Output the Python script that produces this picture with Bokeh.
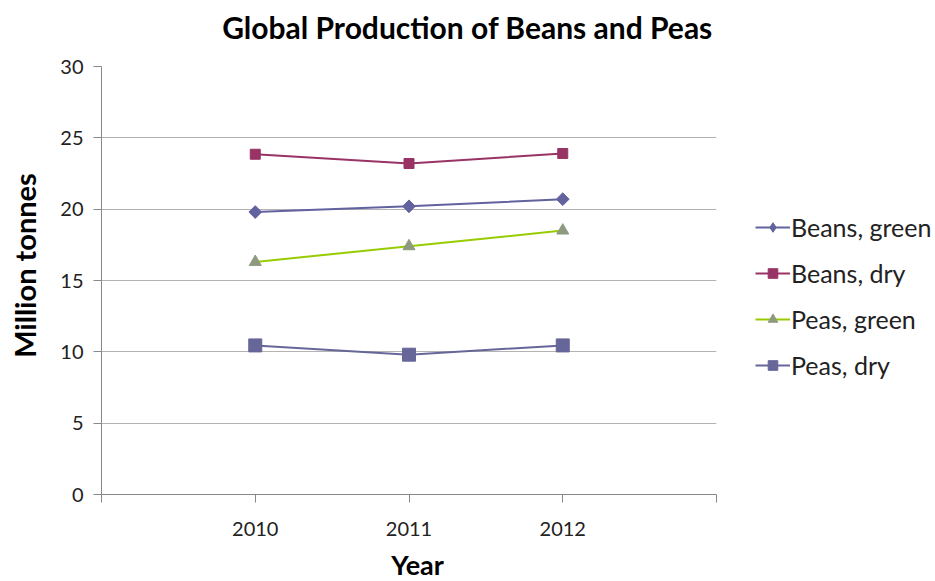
from bokeh.plotting import figure
from bokeh.layouts import column, row
from bokeh.models import (Range1d, FixedTicker, Legend, LegendItem, Label)
from bokeh.embed import file_html
from bokeh.resources import INLINE

years = [2010, 2011, 2012]
beans_green = [19.8, 20.2, 20.7]
beans_dry = [23.85, 23.2, 23.9]
peas_green = [16.3, 17.4, 18.5]
peas_dry = [10.45, 9.8, 10.45]
y_ticks = [0, 5, 10, 15, 20, 25, 30]
x_ticks = [2009, 2010, 2011, 2012, 2013]

FONT = "Lato"


def blank(fig):
    fig.axis.visible = False
    fig.grid.visible = False
    fig.outline_line_color = None
    return fig


# title strip
t = blank(figure(width=935, height=44, output_backend="svg", toolbar_location=None,
                 x_range=Range1d(0, 935), y_range=Range1d(0, 44), min_border=0))
t.add_layout(Label(x=467, y=18, text="Global Production of Beans and Peas",
                   text_font=FONT, text_font_style="bold", text_font_size="30px",
                   text_align="center", text_baseline="middle", text_color="black"))

# main plot
p = figure(width=661, height=501, output_backend="svg", toolbar_location=None,
           x_range=Range1d(2009, 2013), y_range=Range1d(0, 30),
           min_border_left=45, min_border_right=1, min_border_top=22,
           min_border_bottom=51)
p.outline_line_color = None
p.xgrid.grid_line_color = None
p.ygrid.grid_line_color = "#b3b3b3"
p.ygrid.grid_line_width = 1
p.yaxis.ticker = FixedTicker(ticks=y_ticks)
p.xaxis.ticker = FixedTicker(ticks=x_ticks)
p.xaxis.major_label_overrides = {2009: "", 2013: ""}
for ax in (p.xaxis, p.yaxis):
    ax.axis_line_color = "#888888"
    ax.major_tick_line_color = "#888888"
    ax.major_tick_out = 8
    ax.major_tick_in = 0
    ax.minor_tick_line_color = None
    ax.major_label_text_font = FONT
    ax.major_label_text_font_size = "20px"
    ax.major_label_text_color = "#222222"
p.yaxis.major_label_standoff = 10
p.xaxis.major_label_standoff = 19

# y-axis title strip (shares the y scale)
yl = blank(figure(width=56, height=501, output_backend="svg", toolbar_location=None,
                  x_range=Range1d(0, 56), y_range=p.y_range, min_border=0))
yl.add_layout(Label(x=24, y=16.05, text="Million tonnes", angle=1.5708,
                    text_font=FONT, text_font_style="bold", text_font_size="29px",
                    text_align="center", text_baseline="middle", text_color="black"))

# x-axis title strip
b = blank(figure(width=935, height=36, output_backend="svg", toolbar_location=None,
                 x_range=Range1d(0, 935), y_range=Range1d(0, 36), min_border=0))
b.add_layout(Label(x=417, y=17, text="Year",
                   text_font=FONT, text_font_style="bold", text_font_size="27px",
                   text_align="center", text_baseline="middle", text_color="black"))

series = [
    ("Beans, green", beans_green, "#62629f", "square", 9, 0.785398, "diamond", "#62629f"),
    ("Beans, dry", beans_dry, "#993366", "square", 10, 0.0, "square", "#993366"),
    ("Peas, green", peas_green, "#99cc00", "triangle", 12, 0.0, "triangle", "#8e9a80"),
    ("Peas, dry", peas_dry, "#666699", "square", 13, 0.0, "square", "#666699"),
]

# legend strip
lg = blank(figure(width=218, height=501, output_backend="svg", toolbar_location=None,
                  x_range=Range1d(0, 218), y_range=Range1d(0, 541), min_border=0))

items = []
for name, vals, lc, mk, sz, ang, lmk, mc in series:
    p.line(years, vals, line_color=lc, line_width=2)
    p.scatter(years, vals, marker=mk, size=sz, angle=ang, fill_color=mc, line_color=mc)
    # same data in the legend strip (outside its range: only the legend glyph shows)
    lr = lg.line(years, vals, line_color=lc, line_width=2)
    sr = lg.scatter(years, vals, marker=lmk, size=sz, fill_color=mc, line_color=mc)
    items.append(LegendItem(label=name, renderers=[lr, sr]))

legend = Legend(items=items, location=(38, 114), orientation="vertical",
                background_fill_alpha=0, border_line_alpha=0,
                label_text_font=FONT, label_text_font_size="25px",
                label_text_color="#222222",
                glyph_width=35, glyph_height=24, label_height=24,
                label_standoff=1, spacing=16, padding=0, margin=0)
lg.add_layout(legend)

layout = column(t, row(yl, p, lg, spacing=0), b, spacing=0)
open("out.html", "w").write(file_html(layout, INLINE))
